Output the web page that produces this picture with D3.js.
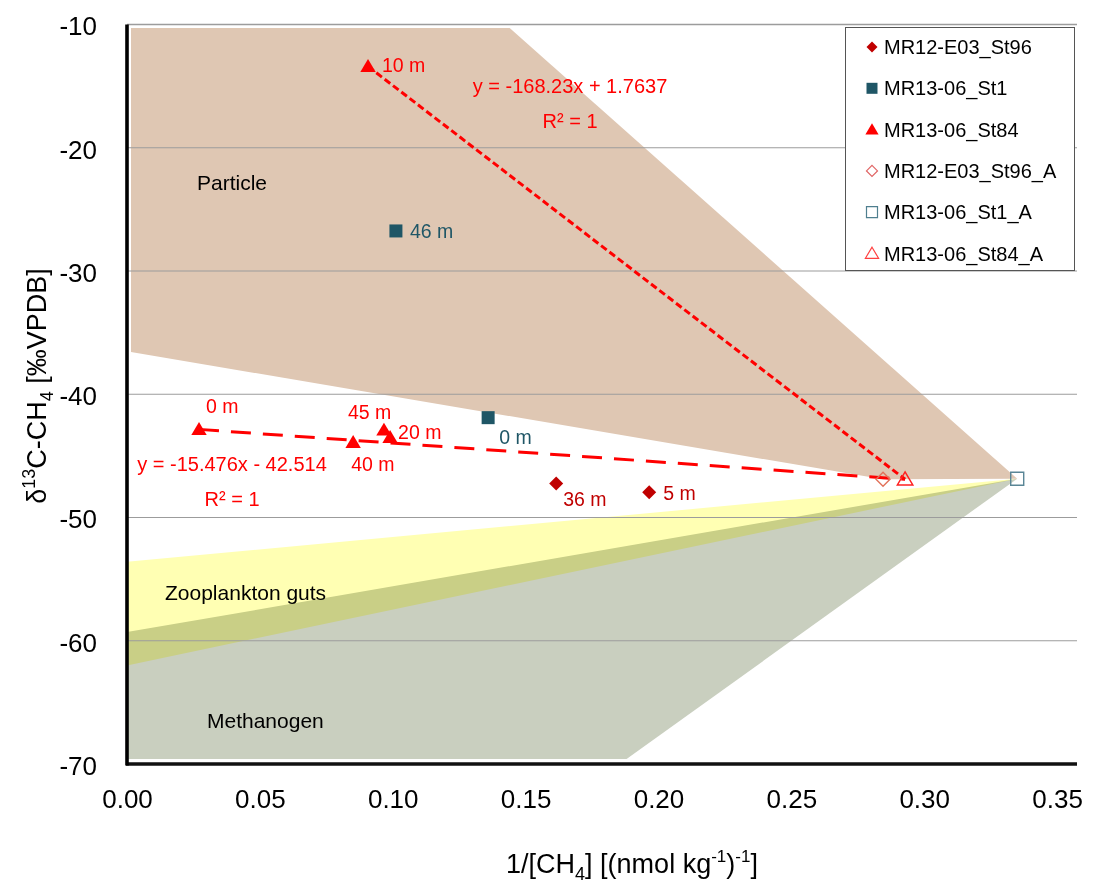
<!DOCTYPE html>
<html><head><meta charset="utf-8">
<script src="https://cdn.jsdelivr.net/npm/d3@7"></script>
<style>
body{margin:0;background:#fff;}
svg{font-family:"Liberation Sans",Arial,sans-serif;}
</style>
</head><body>
<svg id="chart" width="1097" height="887"></svg>
<script>
// ---------- data ----------
const xTicks = [0, 0.05, 0.10, 0.15, 0.20, 0.25, 0.30, 0.35];
const yTicks = [-10, -20, -30, -40, -50, -60, -70];
const seriesNames = ["MR12-E03_St96", "MR13-06_St1", "MR13-06_St84", "MR12-E03_St96_A", "MR13-06_St1_A", "MR13-06_St84_A"];

const st96X = [0.1615, 0.1965];
const st96Y = [-47.25, -47.95];
const st96Labels = ["36 m", "5 m"];

const st1X = [0.1012, 0.1359];
const st1Y = [-26.75, -41.9];
const st1Labels = ["46 m", "0 m"];

const st84X = [0.0271, 0.0907, 0.0990, 0.0851, 0.0967];
const st84Y = [-42.85, -13.4, -43.5, -43.9, -42.9];
const st84Labels = ["0 m", "10 m", "20 m", "40 m", "45 m"];

const st96AX = [0.2845], st96AY = [-46.9];
const st1AX = [0.335], st1AY = [-46.85];
const st84AX = [0.2928], st84AY = [-46.9];

const trendEquations = ["y = -15.476x - 42.514", "y = -168.23x + 1.7637"];
const trendR2 = ["R² = 1", "R² = 1"];

const regionNames = ["Particle", "Zooplankton guts", "Methanogen"];
const particleX = [0.0015, 0.144, 0.335, 0.2845, 0.0015];
const particleY = [-10.28, -10.28, -46.85, -46.9, -36.57];
const zooX = [0, 0.335, 0];
const zooY = [-53.6, -46.85, -62.0];
const methX = [0, 0.335, 0.188, 0];
const methY = [-59.3, -46.85, -69.6, -69.6];

// ---------- layout ----------
const svg = d3.select("#chart");
const x = d3.scaleLinear().domain([0, 0.3575]).range([127, 1077]);
const y = d3.scaleLinear().domain([-70, -10]).range([764, 24.5]);

const colSt96 = "#c00000", colSt1 = "#1f5666", colSt84 = "#ff0000";

function pts(xs, ys){ return xs.map((v,i)=>[x(v), y(ys[i])]); }
const line = d3.line();

// regions
svg.append("path").attr("d", line(pts(particleX, particleY)) + "Z").attr("fill", "#dfc7b3");
svg.append("path").attr("d", line(pts(methX, methY)) + "Z").attr("fill", "#c9cfbf");
svg.append("path").attr("d", line(pts(zooX, zooY)) + "Z").attr("fill", "#ffffb3")
   .style("mix-blend-mode", "multiply");

// gridlines
svg.append("g").selectAll("line").data(yTicks.filter(v => v !== -70)).join("line")
  .attr("x1", x(0)).attr("x2", x(0.3575))
  .attr("y1", d => y(d)).attr("y2", d => y(d))
  .attr("stroke", "#9c9c9c").attr("stroke-width", d => d === -10 ? 1.6 : 1.1);

// axes
const xAxis = svg.append("g").attr("transform", `translate(0,${y(-70)})`)
  .call(d3.axisBottom(x).tickValues(xTicks).tickSize(0).tickFormat(d => d.toFixed(2)));
xAxis.select(".domain").remove();
xAxis.selectAll("text").attr("y", 44).attr("dy", null)
  .attr("font-size", 26).attr("fill", "#000").attr("font-family", "Liberation Sans, Arial, sans-serif");

const yAxis = svg.append("g").attr("transform", `translate(${x(0)},0)`)
  .call(d3.axisLeft(y).tickValues(yTicks).tickSize(0).tickFormat(d => String(d)));
yAxis.select(".domain").remove();
yAxis.selectAll("text").attr("x", -30).attr("dy", "0.4em")
  .attr("font-size", 26).attr("fill", "#000").attr("font-family", "Liberation Sans, Arial, sans-serif");

svg.append("line").attr("x1", x(0) - 1).attr("x2", x(0.3575)).attr("y1", y(-70)).attr("y2", y(-70))
  .attr("stroke", "#111").attr("stroke-width", 3.5);
svg.append("line").attr("x1", x(0)).attr("x2", x(0)).attr("y1", y(-10)).attr("y2", y(-70) + 1.5)
  .attr("stroke", "#000").attr("stroke-width", 3.6);

// trend lines
const t1 = [[x(st84X[0]), y(st84Y[0])], [x(st84AX[0]), y(st84AY[0])]];
const t2 = [[x(st84X[1]), y(st84Y[1])], [x(st84AX[0]), y(st84AY[0])]];
svg.append("path").attr("d", line(t1)).attr("stroke", "#ff0000").attr("stroke-width", 3)
  .attr("fill", "none").attr("stroke-dasharray", "20,12");
svg.append("path").attr("d", line(t2)).attr("stroke", "#ff0000").attr("stroke-width", 3)
  .attr("fill", "none").attr("stroke-dasharray", "7,3.5");

// marker shapes
function shapePath(type, r){
  if (type === "diamond") return `M0,${-r}L${r},0L0,${r}L${-r},0Z`;
  if (type === "square") return `M${-r},${-r}H${r}V${r}H${-r}Z`;
  return `M0,${-r*1.05}L${r*1.1},${r*0.8}L${-r*1.1},${r*0.8}Z`;
}
function drawMarkers(xs, ys, type, r, fill, stroke, sw){
  svg.append("g").selectAll("path").data(xs).join("path")
    .attr("transform", (d,i) => `translate(${x(d)},${y(ys[i])})`)
    .attr("d", shapePath(type, r))
    .attr("fill", fill).attr("stroke", stroke).attr("stroke-width", sw);
}
drawMarkers(st96X, st96Y, "diamond", 7, colSt96, "none", 0);
drawMarkers(st1X, st1Y, "square", 6.5, colSt1, "none", 0);
drawMarkers(st84X, st84Y, "triangle", 7, colSt84, "none", 0);
drawMarkers(st96AX, st96AY, "diamond", 7, "none", "#e2725a", 1.4);
drawMarkers(st1AX, st1AY, "square", 6.5, "none", "#5a8696", 1.4);
drawMarkers(st84AX, st84AY, "triangle", 7, "none", "#ff2020", 1.5);

// data labels (offsets in px)
const st96Off = [[7, 22], [14, 8]];
const st1Off = [[14, 7], [11, 26]];
const st84Off = [[7, -16], [14, 6], [8, 2], [-2, 29], [-36, -11]];
function drawLabels(xs, ys, labels, offs, color){
  svg.append("g").selectAll("text").data(labels).join("text")
    .attr("x", (d,i) => x(xs[i]) + offs[i][0])
    .attr("y", (d,i) => y(ys[i]) + offs[i][1])
    .attr("font-size", 19.5).attr("fill", color).text(d => d);
}
drawLabels(st96X, st96Y, st96Labels, st96Off, colSt96);
drawLabels(st1X, st1Y, st1Labels, st1Off, colSt1);
drawLabels(st84X, st84Y, st84Labels, st84Off, colSt84);

// equations
const eqPos = [[232, 471, 506], [570, 93, 128]];
trendEquations.forEach((eq, i) => {
  svg.append("text").attr("x", eqPos[i][0]).attr("y", eqPos[i][1]).attr("text-anchor", "middle")
    .attr("font-size", 20).attr("fill", "#ff0000").text(eq);
  svg.append("text").attr("x", eqPos[i][0]).attr("y", eqPos[i][2]).attr("text-anchor", "middle")
    .attr("font-size", 20).attr("fill", "#ff0000").text(trendR2[i]);
});

// region labels
const regionPos = [[197, 190], [165, 600], [207, 728]];
regionNames.forEach((n, i) => {
  svg.append("text").attr("x", regionPos[i][0]).attr("y", regionPos[i][1])
    .attr("font-size", 21).attr("fill", "#000").text(n);
});

// legend
const lg = svg.append("g");
lg.append("rect").attr("x", 845.5).attr("y", 27.5).attr("width", 229).attr("height", 243)
  .attr("fill", "#fff").attr("stroke", "#555").attr("stroke-width", 1);
const legendShapes = [
  ["diamond", 5.5, colSt96, "none", 0],
  ["square", 5.5, colSt1, "none", 0],
  ["triangle", 6, colSt84, "none", 0],
  ["diamond", 5.5, "none", "#e06464", 1.2],
  ["square", 5.5, "none", "#4f7f8f", 1.2],
  ["triangle", 6, "none", "#ff4040", 1.2]
];
seriesNames.forEach((n, i) => {
  const cy = 47 + i * 41.3;
  const s = legendShapes[i];
  lg.append("path").attr("transform", `translate(872,${cy})`).attr("d", shapePath(s[0], s[1]))
    .attr("fill", s[2]).attr("stroke", s[3]).attr("stroke-width", s[4]);
  lg.append("text").attr("x", 884).attr("y", cy + 7).attr("font-size", 20).attr("fill", "#000").text(n);
});

// axis titles
const xt = svg.append("text").attr("x", 632).attr("y", 873).attr("text-anchor", "middle")
  .attr("font-size", 27).attr("fill", "#000");
xt.append("tspan").text("1/[CH");
xt.append("tspan").attr("font-size", 18).attr("dy", 7).text("4");
xt.append("tspan").attr("dy", -7).text("] [(nmol kg");
xt.append("tspan").attr("font-size", 17).attr("dy", -11).text("-1");
xt.append("tspan").attr("dy", 11).text(")");
xt.append("tspan").attr("font-size", 17).attr("dy", -11).text("-1");
xt.append("tspan").attr("dy", 11).text("]");

const yt = svg.append("text").attr("transform", "translate(46,386) rotate(-90)").attr("text-anchor", "middle")
  .attr("font-size", 27).attr("fill", "#000");
yt.append("tspan").text("δ");
yt.append("tspan").attr("font-size", 18).attr("dy", -11).text("13");
yt.append("tspan").attr("dy", 11).text("C-CH");
yt.append("tspan").attr("font-size", 18).attr("dy", 7).text("4");
yt.append("tspan").attr("dy", -7).text(" [‰VPDB]");
</script>
</body></html>
